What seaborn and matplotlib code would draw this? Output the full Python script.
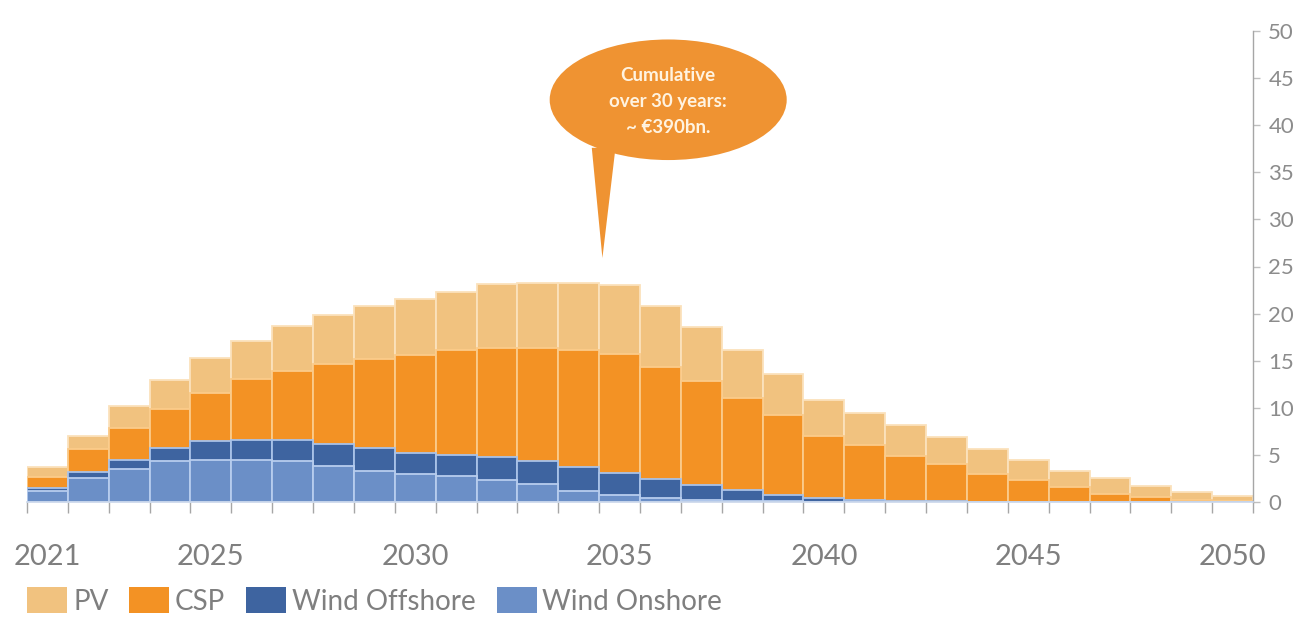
import numpy as np
import pandas as pd
import matplotlib
matplotlib.use("Agg")
import matplotlib.pyplot as plt
from matplotlib.patches import Ellipse, Polygon, Patch
import seaborn as sns

years = list(range(2021, 2051))
onshore = [1.2, 2.6, 3.5, 4.3, 4.5, 4.5, 4.3, 3.8, 3.3, 3.0, 2.8, 2.3, 1.9, 1.2, 0.7,
           0.45, 0.25, 0.15, 0.1, 0.05, 0, 0, 0, 0, 0, 0, 0, 0, 0, 0]
offshore = [0.3, 0.6, 1.0, 1.4, 2.0, 2.1, 2.3, 2.4, 2.4, 2.2, 2.2, 2.5, 2.4, 2.5, 2.4,
            2.0, 1.6, 1.15, 0.6, 0.4, 0.2, 0.15, 0.1, 0.05, 0, 0, 0, 0, 0, 0]
csp = [1.2, 2.4, 3.4, 4.2, 5.1, 6.5, 7.3, 8.4, 9.5, 10.4, 11.1, 11.6, 12.1, 12.4, 12.6,
       11.9, 11.0, 9.7, 8.5, 6.55, 5.8, 4.75, 3.9, 2.95, 2.3, 1.6, 0.9, 0.5, 0.25, 0.1]
pv = [1.0, 1.4, 2.3, 3.0, 3.7, 4.0, 4.8, 5.2, 5.6, 5.9, 6.2, 6.7, 6.9, 7.1, 7.3,
      6.5, 5.7, 5.1, 4.4, 3.8, 3.4, 3.3, 2.9, 2.6, 2.2, 1.7, 1.6, 1.2, 0.8, 0.5]
series_names = ["PV", "CSP", "Wind Offshore", "Wind Onshore"]
label_years = [2021, 2025, 2030, 2035, 2040, 2045, 2050]
y_ticks = list(range(0, 51, 5))
bubble_lines = ["Cumulative", "over 30 years:", "~ \u20ac390bn."]

colors = {"PV": "#F1C27F", "CSP": "#F39224", "Wind Offshore": "#3E64A0", "Wind Onshore": "#6B8FC7"}
edges = {"PV": "#FBE2BC", "CSP": "#FBCB8A", "Wind Offshore": "#A9C2E8", "Wind Onshore": "#B7CDEE"}
bubble_color = "#EF9332"

sns.set_theme(style="white")
plt.rcParams["font.family"] = ["Lato", "DejaVu Sans"]

df = pd.DataFrame({"year": [str(y) for y in years], "PV": pv, "CSP": csp,
                   "Wind Offshore": offshore, "Wind Onshore": onshore})
stack_order = ["Wind Onshore", "Wind Offshore", "CSP", "PV"]
cum = df[stack_order].cumsum(axis=1)

fig = plt.figure(figsize=(13.14, 6.24), dpi=100)
ax = fig.add_axes([27 / 1314, 1 - 502 / 624, (1253 - 27) / 1314, (502 - 31) / 624])

for name in reversed(stack_order):
    sns.barplot(x=df["year"], y=cum[name], color=colors[name], saturation=1,
                width=1.0, edgecolor=edges[name], linewidth=1.3, ax=ax, zorder=2)

ax.set_xlim(-0.5, len(years) - 0.5)
ax.set_ylim(0, 50)
ax.set_xlabel("")
ax.set_ylabel("")

# x ticks
pos = [years.index(y) for y in label_years]
ax.set_xticks(pos)
ax.set_xticklabels([str(y) for y in label_years], fontsize=21, color="#7F7F7F")
ax.set_xticks(np.arange(-0.5, len(years), 1.0), minor=True)
ax.tick_params(axis="x", which="major", length=0, pad=30)
ax.tick_params(axis="x", which="minor", length=8, width=1, color="#A6A6A6", direction="out", bottom=True)

# y axis on right
ax.yaxis.tick_right()
ax.set_yticks(y_ticks)
ax.set_yticklabels([str(v) for v in y_ticks], fontsize=16, color="#8C8C8C")
ax.tick_params(axis="y", which="major", length=5, width=1, color="#BFBFBF", direction="out", right=True, left=False, pad=6)

for s in ["top", "left"]:
    ax.spines[s].set_visible(False)
ax.spines["right"].set_color("#A6A6A6")
ax.spines["right"].set_linewidth(1.0)
ax.spines["bottom"].set_color("#C9D6EA")
ax.spines["bottom"].set_linewidth(1.2)
ax.grid(False)

# Speech bubble (data coordinates)
bx, by = 15.19, 42.7
ell = Ellipse((bx, by), width=5.8, height=12.8, facecolor=bubble_color,
              edgecolor="none", zorder=5, clip_on=False)
ax.add_patch(ell)
tail = Polygon([[13.32, 37.6], [13.9, 37.6], [13.58, 25.9]], closed=True,
               facecolor=bubble_color, edgecolor="none", zorder=5, clip_on=False)
ax.add_patch(tail)
for i, line in enumerate(bubble_lines):
    ax.text(bx, 45.3 - i * 2.75, line, ha="center", va="center", color="#FFF3E0",
            fontsize=13.5, fontweight="bold", zorder=6)

# Legend
handles = [Patch(facecolor=colors[n], edgecolor="none", label=n) for n in series_names]
fig.legend(handles=handles, loc="lower left", bbox_to_anchor=(0.008, -0.012), ncol=4,
           frameon=False, fontsize=20, handlelength=1.45, handleheight=1.05,
           handletextpad=0.2, columnspacing=0.75, labelcolor="#7F7F7F", borderaxespad=0.2)

fig.savefig("out.png", dpi=100)
